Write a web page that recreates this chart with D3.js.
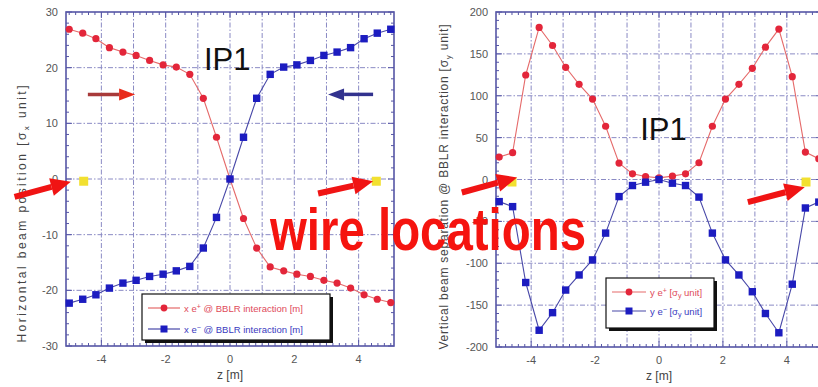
<!DOCTYPE html>
<html>
<head>
<meta charset="utf-8">
<script src="https://cdnjs.cloudflare.com/ajax/libs/d3/7.8.5/d3.min.js"></script>
<style>
  html, body { margin: 0; padding: 0; background: #fff; }
  svg { display: block; font-family: "Liberation Sans", Arial, sans-serif; }
</style>
</head>
<body>
<div id="chart"></div>
<script>
// z positions of the BBLR encounters [m]
var zPos = [-5, -4.58, -4.17, -3.75, -3.33, -2.92, -2.5, -2.08, -1.67, -1.25, -0.83, -0.42, 0,
            0.42, 0.83, 1.25, 1.67, 2.08, 2.5, 2.92, 3.33, 3.75, 4.17, 4.58, 5]

// left panel: horizontal beam position [sigma_x]
var horizPlus  = [26.9, 26.2, 25.2, 23.6, 22.8, 22.2, 21.3, 20.5, 20.1, 18.8, 14.5, 7.5, 0,
                  -7.1, -12.4, -15.8, -16.5, -17.1, -17.5, -18.2, -18.7, -19.6, -20.8, -21.6, -22.2]
var horizMinus = [-22.3, -21.6, -20.8, -19.6, -18.7, -18.2, -17.5, -17.1, -16.5, -15.7, -12.4, -6.9, 0,
                  7.5, 14.5, 18.8, 20.1, 20.5, 21.3, 22.2, 22.8, 23.6, 25.2, 26.2, 26.9]

// right panel: vertical beam separation [sigma_y]
var vertPlus  = [26.8, 32, 124.8, 181.6, 160, 134, 113.6, 96, 63.6, 19.6, 6.8, 3.6, 2,
                 4, 6.8, 20, 63.6, 96, 113.6, 132.8, 158, 179.6, 122.8, 32.8, 24.8]
var vertMinus = [-26.4, -32.4, -123, -180, -159, -132, -114, -96, -64, -20.4, -7.2, -3.2, 0,
                 -4.4, -7.2, -21, -64, -96, -114, -134, -160, -183, -125, -34, -27]

// wire locations (z, value) per panel
var wiresLeft  = [[-4.55, -0.4], [4.55, -0.4]]
var wiresRight = [[-4.6, -3], [4.6, -3]]

var xTickLabels = [-4, -2, 0, 2, 4]
var yTicksLeft  = [-30, -20, -10, 0, 10, 20, 30]
var yTicksRight = [-200, -150, -100, -50, 0, 50, 100, 150, 200]

var W = 818, H = 387
var svg = d3.select("#chart").append("svg").attr("width", W).attr("height", H)

var RED = "#e3263a", REDLINE = "#e56a6a", BLUE = "#1c1cc0", BLUELINE = "#4848a8"
var FRAME = "#5656a6", GRID = "#8a8ac4"

function drawPanel(cfg) {
  var x = d3.scaleLinear().domain([-5.1, 5.1]).range([cfg.left, cfg.right])
  var y = d3.scaleLinear().domain(cfg.yDomain).range([cfg.bottom, cfg.top])
  var g = svg.append("g")
  cfg.x = x; cfg.y = y

  // grid
  var gx = d3.range(-4, 5)
  g.append("g").selectAll("line").data(gx).enter().append("line")
    .attr("x1", d => x(d)).attr("x2", d => x(d))
    .attr("y1", cfg.top).attr("y2", cfg.bottom)
    .attr("stroke", GRID).attr("stroke-width", 1).attr("stroke-dasharray", "5,2,1.5,2")
  g.append("g").selectAll("line").data(cfg.yGrid).enter().append("line")
    .attr("y1", d => y(d)).attr("y2", d => y(d))
    .attr("x1", cfg.left).attr("x2", cfg.right)
    .attr("stroke", GRID).attr("stroke-width", 1).attr("stroke-dasharray", "5,2,1.5,2")

  // inward ticks on all 4 sides
  var minorX = d3.range(-50, 51, 2).map(d => d / 10)
  var minorY = d3.range(cfg.yDomain[0], cfg.yDomain[1] + 0.001, cfg.yMinor)
  var tk = g.append("g").attr("stroke", FRAME).attr("stroke-width", 1)
  minorX.forEach(function(d) {
    var L = (Math.abs(d % 2) < 0.01) ? 6 : 3
    tk.append("line").attr("x1", x(d)).attr("x2", x(d)).attr("y1", cfg.bottom).attr("y2", cfg.bottom - L)
    tk.append("line").attr("x1", x(d)).attr("x2", x(d)).attr("y1", cfg.top).attr("y2", cfg.top + L)
  })
  minorY.forEach(function(d) {
    var L = (cfg.yTicks.indexOf(Math.round(d)) >= 0) ? 6 : 3
    tk.append("line").attr("y1", y(d)).attr("y2", y(d)).attr("x1", cfg.left).attr("x2", cfg.left + L)
    tk.append("line").attr("y1", y(d)).attr("y2", y(d)).attr("x1", cfg.right).attr("x2", cfg.right - L)
  })

  // frame
  g.append("rect").attr("x", cfg.left).attr("y", cfg.top)
    .attr("width", cfg.right - cfg.left).attr("height", cfg.bottom - cfg.top)
    .attr("fill", "none").attr("stroke", FRAME).attr("stroke-width", 1.6)

  // tick labels
  g.append("g").selectAll("text").data(cfg.yTicks).enter().append("text")
    .attr("x", cfg.left - 8).attr("y", d => y(d) + 4)
    .attr("text-anchor", "end").attr("font-size", 11).attr("fill", "#555")
    .text(d => d)
  g.append("g").selectAll("text").data(xTickLabels).enter().append("text")
    .attr("x", d => x(d)).attr("y", cfg.bottom + 17)
    .attr("text-anchor", "middle").attr("font-size", 11).attr("fill", "#555")
    .text(d => d)
  g.append("text").attr("x", x(0)).attr("y", cfg.bottom + 33)
    .attr("text-anchor", "middle").attr("font-size", 12).attr("fill", "#444")
    .text("z [m]")

  // y label
  var yl = g.append("text")
    .attr("transform", "translate(" + cfg.yLabelX + "," + cfg.yLabelY + ") rotate(-90)")
    .attr("text-anchor", "middle").attr("font-size", 12).attr("fill", "#444")
    .attr("textLength", cfg.yLabelLen).attr("lengthAdjust", "spacing")
  yl.append("tspan").text(cfg.yLabel[0])
  yl.append("tspan").attr("font-size", 8).attr("dy", 3).text(cfg.yLabel[1])
  yl.append("tspan").attr("dy", -3).text(cfg.yLabel[2])

  // series
  var line = d3.line().x((d, i) => x(zPos[i])).y(d => y(d))
  var clip = g.append("g")
  clip.append("path").datum(cfg.plus).attr("d", line)
    .attr("fill", "none").attr("stroke", REDLINE).attr("stroke-width", 1.1)
  clip.append("path").datum(cfg.minus).attr("d", line)
    .attr("fill", "none").attr("stroke", BLUELINE).attr("stroke-width", 1.1)
  clip.selectAll("circle").data(cfg.plus).enter().append("circle")
    .attr("cx", (d, i) => x(zPos[i])).attr("cy", d => y(d)).attr("r", 3.6)
    .attr("fill", RED)
  clip.selectAll("rect.sq").data(cfg.minus).enter().append("rect").attr("class", "sq")
    .attr("x", (d, i) => x(zPos[i]) - 3.7).attr("y", d => y(d) - 3.7)
    .attr("width", 7.4).attr("height", 7.4).attr("fill", BLUE)

  // legend
  var lg = cfg.legend
  g.append("rect").attr("x", lg.x + 3).attr("y", lg.y + 3).attr("width", lg.w).attr("height", lg.h)
    .attr("fill", "#111")
  g.append("rect").attr("x", lg.x).attr("y", lg.y).attr("width", lg.w).attr("height", lg.h)
    .attr("fill", "#fff").attr("stroke", "#111").attr("stroke-width", 1.2)
  lg.items.forEach(function(it, i) {
    var yy = lg.y + 14 + i * lg.dy
    var col = i === 0 ? REDLINE : BLUELINE
    g.append("line").attr("x1", lg.x + 6).attr("x2", lg.x + 6 + lg.sample)
      .attr("y1", yy).attr("y2", yy).attr("stroke", col).attr("stroke-width", 1.2)
    var mx = lg.x + 6 + lg.sample / 2
    if (i === 0) g.append("circle").attr("cx", mx).attr("cy", yy).attr("r", 3.4).attr("fill", RED)
    else g.append("rect").attr("x", mx - 3.5).attr("y", yy - 3.5).attr("width", 7).attr("height", 7).attr("fill", BLUE)
    var t = g.append("text").attr("x", lg.x + 10 + lg.sample).attr("y", yy + 3.5)
      .attr("font-size", 9.5).attr("fill", i === 0 ? "#e04a5a" : "#3a3ac0")
    it.forEach(function(p) {
      var s = t.append("tspan").text(p.t)
      if (p.sup) s.attr("font-size", 7).attr("dy", -3)
      if (p.sub) s.attr("font-size", 7).attr("dy", 2)
      if (p.back) s.attr("dy", p.back)
    })
  })
  return cfg
}

var leftP = drawPanel({
  left: 66, right: 394, top: 12, bottom: 346,
  yDomain: [-30, 30], yTicks: yTicksLeft, yGrid: [-20, -10, 0, 10, 20], yMinor: 2,
  plus: horizPlus, minus: horizMinus,
  yLabel: ["Horizontal beam position [σ", "x", " unit]"], yLabelX: 26, yLabelY: 214, yLabelLen: 257,
  legend: { x: 142, y: 294, w: 188, h: 46, dy: 21, sample: 32,
    items: [
      [{t: "x e"}, {t: "+", sup: true}, {t: " @ BBLR interaction [m]", back: 3}],
      [{t: "x e"}, {t: "−", sup: true}, {t: " @ BBLR interaction [m]", back: 3}]
    ] }
})

var rightP = drawPanel({
  left: 496, right: 822, top: 12, bottom: 347,
  yDomain: [-200, 200], yTicks: yTicksRight, yGrid: [-150, -100, -50, 0, 50, 100, 150], yMinor: 10,
  plus: vertPlus, minus: vertMinus,
  yLabel: ["Vertical beam separation @ BBLR interaction [σ", "y", " unit]"], yLabelX: 448, yLabelY: 187, yLabelLen: 325,
  legend: { x: 606, y: 278, w: 108, h: 50, dy: 19, sample: 34,
    items: [
      [{t: "y e"}, {t: "+", sup: true}, {t: " [σ", back: 3}, {t: "y", sub: true}, {t: " unit]", back: -2}],
      [{t: "y e"}, {t: "−", sup: true}, {t: " [σ", back: 3}, {t: "y", sub: true}, {t: " unit]", back: -2}]
    ] }
})

// IP1 labels (data coords)
var ipLabels = [[leftP, -0.81, 19.5], [rightP, -0.59, 47]]
ipLabels.forEach(function(d) {
  svg.append("text").attr("x", d[0].x(d[1])).attr("y", d[0].y(d[2]))
    .attr("font-size", 31).attr("fill", "#111").text("IP1")
})

// beam direction arrows in left panel
function arrow(x1, y1, x2, y2, sw, hl, hw, col, headCol) {
  var dx = x2 - x1, dy = y2 - y1, L = Math.sqrt(dx * dx + dy * dy)
  var ux = dx / L, uy = dy / L, nx = -uy, ny = ux
  var bx = x2 - ux * hl, by = y2 - uy * hl
  svg.append("path").attr("fill", col).attr("d",
    "M" + (x1 + nx * sw / 2) + "," + (y1 + ny * sw / 2) +
    "L" + (bx + nx * sw / 2) + "," + (by + ny * sw / 2) +
    "L" + (bx - nx * sw / 2) + "," + (by - ny * sw / 2) +
    "L" + (x1 - nx * sw / 2) + "," + (y1 - ny * sw / 2) + "Z")
  svg.append("path").attr("fill", headCol || col).attr("d",
    "M" + (bx + nx * hw / 2) + "," + (by + ny * hw / 2) +
    "L" + x2 + "," + y2 +
    "L" + (bx - nx * hw / 2) + "," + (by - ny * hw / 2) + "Z")
}
var lx = leftP.x, ly = leftP.y
arrow(lx(-4.42), ly(15.2), lx(-2.95), ly(15.2), 3.5, 16, 12, "#a83a3a", "#e82a1a")
arrow(lx(4.45), ly(15.2), lx(3.05), ly(15.2), 3.5, 16, 12, "#32328e")

// wire squares
wiresLeft.forEach(function(d) {
  svg.append("rect").attr("x", lx(d[0]) - 4.5).attr("y", ly(d[1]) - 4.5)
    .attr("width", 9).attr("height", 9).attr("fill", "#f2e030")
})
wiresRight.forEach(function(d) {
  svg.append("rect").attr("x", rightP.x(d[0]) - 4.5).attr("y", rightP.y(d[1]) - 4.5)
    .attr("width", 9).attr("height", 9).attr("fill", "#f2e030")
})

// red arrows pointing at the wires (tail, tip in data coords)
var wireArrowsLeft  = [[-6.7, -3.2, -4.95, -0.5], [2.74, -2.6, 4.45, -0.4]]
var wireArrowsRight = [[-6.17, -15.5, -4.44, 2.4], [2.78, -27, 4.56, -9.2]]
wireArrowsLeft.forEach(function(a) {
  arrow(lx(a[0]), ly(a[1]), lx(a[2]), ly(a[3]), 6, 20, 18, "#f01414")
})
wireArrowsRight.forEach(function(a) {
  arrow(rightP.x(a[0]), rightP.y(a[1]), rightP.x(a[2]), rightP.y(a[3]), 6, 20, 18, "#f01414")
})

// overlay annotation
svg.append("text").attr("x", 270).attr("y", 250)
  .attr("font-size", 60).attr("font-weight", "bold").attr("fill", "#f5140f")
  .attr("textLength", 316).attr("lengthAdjust", "spacingAndGlyphs")
  .text("wire locations")
</script>
</body>
</html>
